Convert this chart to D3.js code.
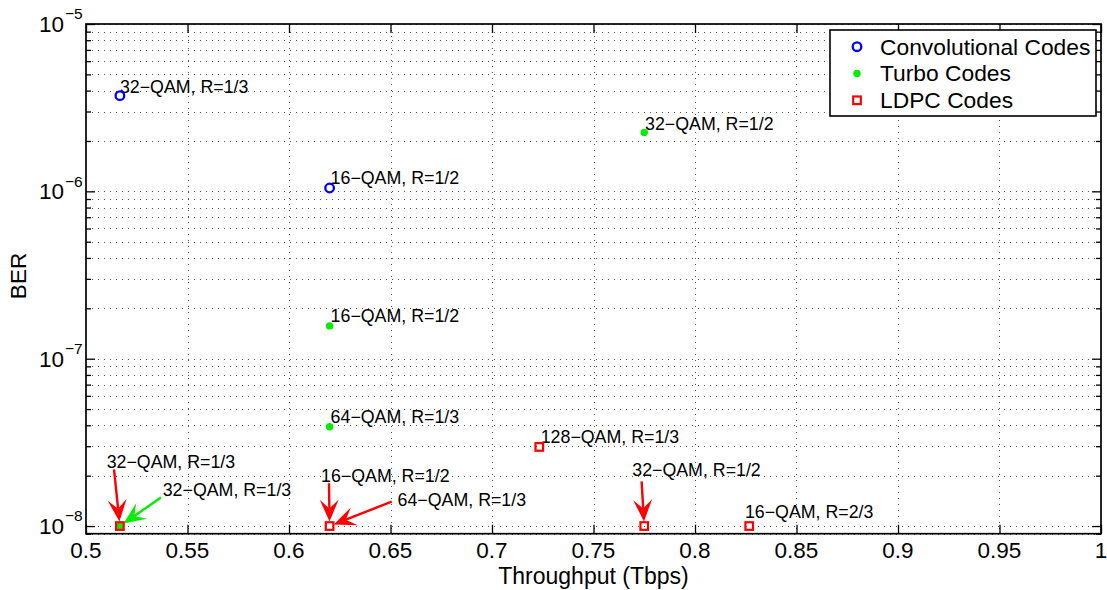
<!DOCTYPE html>
<html><head><meta charset="utf-8">
<script src="https://cdn.jsdelivr.net/npm/d3@7"></script>
<style>
body{margin:0;background:#fff}
text{font-family:"Liberation Sans",Arial,Helvetica,sans-serif;fill:#000}
</style>
</head><body>
<svg id="chart" width="1107" height="590"></svg>
<script>
// ---------- data ----------
const xTicks = [0.5,0.55,0.6,0.65,0.7,0.75,0.8,0.85,0.9,0.95,1];
const xTickLabels = ["0.5","0.55","0.6","0.65","0.7","0.75","0.8","0.85","0.9","0.95","1"];
const yTicks = [1e-8,1e-7,1e-6,1e-5];
const yTickExponents = ["−8","−7","−6","−5"];
const seriesNames = ["Convolutional Codes","Turbo Codes","LDPC Codes"];

const convX = [0.5167,0.62];
const convBER = [3.73e-6,1.047e-6];
const turboX = [0.775,0.62,0.62,0.5167];
const turboBER = [2.25e-6,1.57e-7,3.92e-8,1e-8];
const ldpcX = [0.5167,0.62,0.7233,0.775,0.8267];
const ldpcBER = [1e-8,1e-8,2.97e-8,1e-8,1e-8];

// text labels placed at data coordinates (left-aligned, vertically centred)
const ptLabelText = ["32−QAM, R=1/3","16−QAM, R=1/2","32−QAM, R=1/2","16−QAM, R=1/2","64−QAM, R=1/3","128−QAM, R=1/3","16−QAM, R=2/3"];
const ptLabelX = [0.5167,0.6205,0.7754,0.6205,0.6205,0.724,0.8246];
const ptLabelBER = [4.22e-6,1.20e-6,2.55e-6,1.80e-7,4.50e-8,3.41e-8,1.215e-8];

// text arrows (text, tail, head target, series)
const arrowText = ["32−QAM, R=1/3","32−QAM, R=1/3","16−QAM, R=1/2","64−QAM, R=1/3","32−QAM, R=1/2"];
const arrowTextX = [0.5102,0.5378,0.6158,0.6535,0.7691];
const arrowTextBER = [2.42e-8,1.64e-8,2.01e-8,1.43e-8,2.16e-8];
const arrowTailX = [0.5138,0.5369,0.6197,0.6506,0.7737];
const arrowTailBER = [2.18e-8,1.48e-8,1.80e-8,1.40e-8,1.85e-8];
const arrowHeadX = [0.5167,0.5167,0.62,0.62,0.775];
const arrowHeadBER = [1e-8,1e-8,1e-8,1e-8,1e-8];
const arrowSeries = [2,1,2,2,2];

// ---------- drawing ----------
const colors = ["#0000ff","#00ee00","#ff0000"];
const W=1107,H=590;
const L=86,R=1101,T=24,B=533.7;
const svg = d3.select("#chart");
svg.append("rect").attr("width",W).attr("height",H).attr("fill","#fff");

const x = d3.scaleLinear().domain([0.5,1]).range([L,R]);
const y = d3.scaleLog().domain([9e-9,1e-5]).range([B,T]);

// minor log values
const yMinor = [];
for (let e=-9;e<=-6;e++) for (let m=2;m<=9;m++){const v=m*Math.pow(10,e); if(v>=9e-9 && v<=1e-5) yMinor.push(v);}

const grid = svg.append("g").attr("stroke","#555").attr("stroke-width",1).attr("stroke-dasharray","1,5");
grid.selectAll("line.gx").data(xTicks.slice(1,-1)).join("line")
  .attr("x1",d=>Math.round(x(d))+0.5).attr("x2",d=>Math.round(x(d))+0.5).attr("y1",T).attr("y2",B);
grid.selectAll("line.gy").data(yTicks.concat(yMinor)).join("line")
  .attr("x1",L).attr("x2",R).attr("y1",d=>Math.round(y(d))+0.5).attr("y2",d=>Math.round(y(d))+0.5);

// axes with inward ticks
const axB = d3.axisBottom(x).tickValues(xTicks).tickSize(-9).tickFormat(()=>"");
const axT = d3.axisTop(x).tickValues(xTicks).tickSize(-9).tickFormat(()=>"");
const axL = d3.axisLeft(y).tickValues(yTicks).tickSize(-9).tickFormat(()=>"");
const axR = d3.axisRight(y).tickValues(yTicks).tickSize(-9).tickFormat(()=>"");
const axLm = d3.axisLeft(y).tickValues(yMinor).tickSize(-5).tickFormat(()=>"");
const axRm = d3.axisRight(y).tickValues(yMinor).tickSize(-5).tickFormat(()=>"");
function styleAx(g){g.select(".domain").remove(); g.selectAll("line").attr("stroke","#000").attr("stroke-width",1.3);}
svg.append("g").attr("transform",`translate(0,${B})`).call(axB).call(styleAx);
svg.append("g").attr("transform",`translate(0,${T})`).call(axT).call(styleAx);
svg.append("g").attr("transform",`translate(${L},0)`).call(axL).call(styleAx);
svg.append("g").attr("transform",`translate(${R},0)`).call(axR).call(styleAx);
svg.append("g").attr("transform",`translate(${L},0)`).call(axLm).call(styleAx);
svg.append("g").attr("transform",`translate(${R},0)`).call(axRm).call(styleAx);
svg.append("rect").attr("x",L).attr("y",T).attr("width",R-L).attr("height",B-T)
  .attr("fill","none").attr("stroke","#000").attr("stroke-width",1.7);

// tick labels
svg.append("g").selectAll("text").data(xTicks).join("text")
  .attr("x",d=>x(d)).attr("y",B+16.5).attr("dy","0.35em").attr("text-anchor","middle")
  .attr("font-size",22.5).text((d,i)=>xTickLabels[i]);
const yl = svg.append("g").selectAll("g").data(yTicks).join("g")
  .attr("transform",d=>`translate(${L-22},${y(d)})`);
yl.append("text").attr("x",0).attr("y",0).attr("dy","0.35em").attr("text-anchor","end").attr("font-size",22.5).text("10");
yl.append("text").attr("x",1).attr("y",-10).attr("dy","0.35em").attr("text-anchor","start").attr("font-size",15.5).text((d,i)=>yTickExponents[i]);

// axis titles
svg.append("text").attr("x",(L+R)/2).attr("y",576).attr("dy","0.35em").attr("text-anchor","middle").attr("font-size",23).text("Throughput (Tbps)");
svg.append("text").attr("transform","translate(18,276) rotate(-90)").attr("dy","0.35em").attr("text-anchor","middle").attr("font-size",22.5).text("BER");

// point labels
svg.append("g").selectAll("text").data(ptLabelText).join("text")
  .attr("x",(d,i)=>x(ptLabelX[i])).attr("y",(d,i)=>y(ptLabelBER[i])).attr("dy","0.35em")
  .attr("font-size",17.8).text(d=>d);

// arrows
const ag = svg.append("g");
arrowText.forEach((t,i)=>{
  const c = colors[arrowSeries[i]];
  const x0=x(arrowTailX[i]), y0=y(arrowTailBER[i]);
  const px=x(arrowHeadX[i]), py=y(arrowHeadBER[i]);
  const dx=px-x0, dy=py-y0, len=Math.hypot(dx,dy), ux=dx/len, uy=dy/len;
  const tx=px-ux*4.5, ty=py-uy*4.5;
  const hl=22, hw=9.5, notch=13;
  const bx=tx-ux*hl, by=ty-uy*hl, nx=tx-ux*notch, ny=ty-uy*notch;
  ag.append("line").attr("x1",x0).attr("y1",y0).attr("x2",nx).attr("y2",ny).attr("stroke",c).attr("stroke-width",2.4);
  ag.append("path").attr("fill",c)
    .attr("d",`M${tx},${ty}L${bx-uy*hw},${by+ux*hw}L${nx},${ny}L${bx+uy*hw},${by-ux*hw}Z`);
  ag.append("text").attr("x",x(arrowTextX[i])).attr("y",y(arrowTextBER[i])).attr("dy","0.35em")
    .attr("font-size",17.8).text(t);
});

// markers
svg.append("g").selectAll("circle").data(convX).join("circle")
  .attr("cx",d=>x(d)).attr("cy",(d,i)=>y(convBER[i])).attr("r",4.3)
  .attr("fill","none").attr("stroke",colors[0]).attr("stroke-width",2.3);
svg.append("g").selectAll("circle").data(turboX).join("circle")
  .attr("cx",d=>x(d)).attr("cy",(d,i)=>y(turboBER[i])).attr("r",3.7)
  .attr("fill",colors[1]);
svg.append("g").selectAll("rect").data(ldpcX).join("rect")
  .attr("x",d=>x(d)-3.8).attr("y",(d,i)=>y(ldpcBER[i])-3.8).attr("width",7.6).attr("height",7.6)
  .attr("fill","none").attr("stroke",colors[2]).attr("stroke-width",2.2);

// legend
const lg = svg.append("g");
lg.append("rect").attr("x",830).attr("y",30).attr("width",266).attr("height",86)
  .attr("fill","#fff").attr("stroke","#000").attr("stroke-width",1.6);
const rowsY=[46.7,73.5,100.3];
lg.append("circle").attr("cx",857).attr("cy",rowsY[0]).attr("r",4.3).attr("fill","none").attr("stroke",colors[0]).attr("stroke-width",2.3);
lg.append("circle").attr("cx",857).attr("cy",rowsY[1]).attr("r",3.7).attr("fill",colors[1]);
lg.append("rect").attr("x",857-3.8).attr("y",rowsY[2]-3.8).attr("width",7.6).attr("height",7.6).attr("fill","none").attr("stroke",colors[2]).attr("stroke-width",2.2);
lg.selectAll("text").data(seriesNames).join("text")
  .attr("x",880).attr("y",(d,i)=>rowsY[i]).attr("dy","0.35em").attr("font-size",22.8).text(d=>d);
</script>
</body></html>
